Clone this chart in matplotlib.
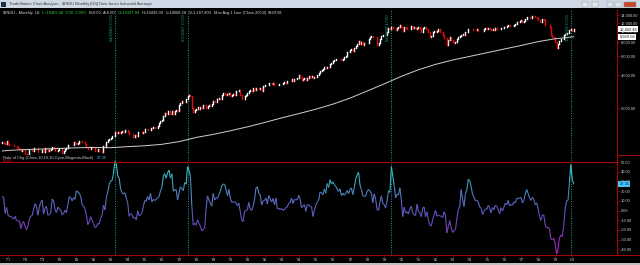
import numpy as np
import matplotlib
matplotlib.use("Agg")
import matplotlib.pyplot as plt
import matplotlib.transforms as mtransforms
from matplotlib.collections import LineCollection
from matplotlib.colors import LinearSegmentedColormap, Normalize
from matplotlib.patches import Rectangle
from matplotlib.lines import Line2D
from matplotlib.ticker import FixedLocator, NullLocator

plt.rcParams['font.family'] = ['Liberation Sans', 'DejaVu Sans']

# monthly closes of the Dow, Jan 1975 .. Feb 2010 (last bar partial)
first_year = 1975
closes = [
    703.69, 739.05, 768.15, 821.34, 832.29, 878.99, 831.51, 835.34, 793.88, 836.04, 860.67, 852.41,
    975.28, 972.61, 999.45, 996.85, 975.23, 1002.78, 984.64, 973.74, 990.19, 964.93, 947.22, 1004.65,
    954.37, 936.42, 919.13, 926.90, 898.66, 916.30, 890.07, 861.49, 847.11, 818.35, 829.70, 831.17,
    769.92, 742.12, 757.36, 837.32, 840.61, 818.95, 862.27, 876.82, 865.82, 792.45, 799.03, 805.01,
    839.22, 808.82, 862.18, 854.90, 822.33, 841.98, 846.42, 887.63, 878.58, 815.70, 822.35, 838.74,
    875.85, 863.14, 785.75, 817.06, 850.85, 867.92, 935.32, 932.59, 932.42, 924.49, 993.34, 963.99,
    947.27, 974.58, 1003.87, 997.75, 991.75, 976.88, 952.34, 881.47, 849.98, 852.55, 888.98, 875.00,
    871.10, 824.39, 822.77, 848.36, 819.54, 811.93, 808.60, 901.31, 896.25, 991.72, 1039.28, 1046.54,
    1075.70, 1112.62, 1130.03, 1226.20, 1199.98, 1221.96, 1199.22, 1216.16, 1233.13, 1225.20, 1276.02, 1258.64,
    1220.58, 1154.63, 1164.89, 1170.75, 1104.85, 1132.40, 1115.28, 1224.38, 1206.71, 1207.38, 1188.94, 1211.57,
    1286.77, 1284.01, 1266.78, 1258.06, 1315.41, 1335.46, 1347.45, 1334.01, 1328.63, 1374.31, 1472.13, 1546.67,
    1570.99, 1709.06, 1818.61, 1783.98, 1876.71, 1892.72, 1775.31, 1898.34, 1767.58, 1877.81, 1914.23, 1895.95,
    2158.04, 2223.99, 2304.69, 2286.36, 2291.57, 2418.53, 2572.07, 2662.95, 2596.28, 1993.53, 1833.55, 1938.83,
    1958.22, 2071.62, 1988.06, 2032.33, 2031.12, 2141.71, 2128.73, 2031.65, 2112.91, 2148.65, 2114.51, 2168.57,
    2342.32, 2258.39, 2293.62, 2418.80, 2480.15, 2440.06, 2660.66, 2737.27, 2692.82, 2645.08, 2706.27, 2753.20,
    2590.54, 2627.25, 2707.21, 2656.76, 2876.66, 2880.69, 2905.20, 2614.36, 2452.48, 2442.33, 2559.65, 2633.66,
    2736.39, 2882.18, 2913.86, 2887.87, 3027.50, 2906.75, 3024.82, 3043.60, 3016.77, 3069.10, 2894.68, 3168.83,
    3223.39, 3267.67, 3235.47, 3359.12, 3396.88, 3318.52, 3393.78, 3257.35, 3271.66, 3226.28, 3305.16, 3301.11,
    3310.03, 3370.81, 3435.11, 3427.55, 3527.43, 3516.08, 3539.47, 3651.25, 3555.12, 3680.59, 3683.95, 3754.09,
    3978.36, 3832.02, 3635.96, 3681.69, 3758.37, 3624.96, 3764.50, 3913.42, 3843.19, 3908.12, 3739.23, 3834.44,
    3843.86, 4011.05, 4157.69, 4321.27, 4465.14, 4556.10, 4708.47, 4610.56, 4789.08, 4755.48, 5074.49, 5117.12,
    5395.30, 5485.62, 5587.14, 5569.08, 5643.18, 5654.63, 5528.91, 5616.21, 5882.17, 6029.38, 6521.70, 6448.27,
    6813.09, 6877.74, 6583.48, 7008.99, 7331.04, 7672.79, 8222.61, 7622.42, 7945.26, 7442.08, 7823.13, 7908.25,
    7906.50, 8545.72, 8799.81, 9063.37, 8899.95, 8952.02, 8883.29, 7539.07, 7842.62, 8592.10, 9116.55, 9181.43,
    9358.83, 9306.58, 9786.16, 10789.04, 10559.74, 10970.80, 10655.15, 10829.28, 10336.95, 10729.94, 10877.81, 11497.12,
    10940.53, 10128.31, 10921.92, 10733.91, 10522.33, 10447.89, 10521.98, 11215.10, 10650.92, 10971.14, 10414.49, 10787.99,
    10887.36, 10495.28, 9878.78, 10734.97, 10911.94, 10502.40, 10522.81, 9949.75, 8847.56, 9075.14, 9851.56, 10021.50,
    9920.00, 10106.13, 10403.94, 9946.22, 9925.25, 9243.26, 8736.59, 8663.50, 7591.93, 8397.03, 8896.09, 8341.63,
    8053.81, 7891.08, 7992.13, 8480.09, 8850.26, 8985.44, 9233.80, 9415.82, 9275.06, 9801.12, 9782.46, 10453.92,
    10488.07, 10583.92, 10357.70, 10225.57, 10188.45, 10435.48, 10139.71, 10173.92, 10080.27, 10027.47, 10428.02, 10783.01,
    10489.94, 10766.23, 10503.76, 10192.51, 10467.48, 10274.97, 10640.91, 10481.60, 10568.70, 10440.07, 10805.87, 10717.50,
    10864.86, 10993.41, 11109.32, 11367.14, 11168.31, 11150.22, 11185.68, 11381.15, 11679.07, 12080.73, 12221.93, 12463.15,
    12621.69, 12268.63, 12354.35, 13062.91, 13627.64, 13408.62, 13211.99, 13357.74, 13895.63, 13930.01, 13371.72, 13264.82,
    12650.36, 12266.39, 12262.89, 12820.13, 12638.32, 11350.01, 11378.02, 11543.55, 10850.66, 9325.01, 8829.04, 8776.39,
    8000.86, 7062.93, 7608.92, 8168.12, 8500.33, 8447.00, 9171.61, 9496.28, 9712.28, 9712.73, 10344.84, 10428.05,
    10067.33, 10402.48,
]
plot_start = 20  # first bar drawn: Sep 1976

# 200 bar moving average
ma_years = [1976.667, 1977, 1978, 1979, 1980, 1981, 1982, 1983, 1984, 1985, 1986, 1987, 1988,
            1989, 1990, 1991, 1992, 1993, 1994, 1995, 1996, 1997, 1998, 1999, 2000, 2001,
            2002, 2003, 2004, 2005, 2006, 2007, 2008, 2009, 2010, 2010.083]
ma_values = [818, 827, 843, 851, 862, 874, 880, 876, 895, 912, 940, 994, 1086,
             1157, 1248, 1355, 1484, 1634, 1787, 1960, 2181, 2473, 2868, 3330, 3900, 4476,
             5010, 5490, 5922, 6390, 6904, 7438, 8067, 8566, 8902, 8929.58]

line_dates = [1983.25, 1987.5, 1999.417, 2009.917]
line_labels = ["04/29/83 17:00", "07/31/87 17:00", "06/30/99 17:00", "12/31/09 17:00"]

price_ticks = [2000, 4000, 6000, 8000, 10000, 12000, 14000]
roc_ticks = [50, 40, 30, 20, 10, 0, -10, -20, -30, -40]
label_years = list(range(1977, 2011))

header_parts = [("$INDU - Monthly", "#d8d8d8"), ("US", "#d8d8d8"),
                ("L=10402.48  9.50  0.09%", "#2ecc40"), ("B=0.00", "#d8d8d8"),
                ("A=0.00", "#d8d8d8"), ("O=10397.88", "#2ecc40"),
                ("H=10436.00", "#d8d8d8"), ("L=10008.28", "#d8d8d8"),
                ("V=1,187,800", "#d8d8d8"), ("Mov Avg 1 Line (Close,200,0)", "#d8d8d8"),
                ("8929.58", "#d8d8d8")]

W, H = 640, 265
RED = '#9a0a0a'
TXT = '#c8c8c8'
TEAL = '#27a08f'
FS = 2.9


def fx(px):
    return px / W


def fy(py):
    return 1 - py / H


closes = np.array(closes)
dates = first_year + np.arange(len(closes)) / 12.0
roc = np.full(len(closes), np.nan)
roc[10:] = (closes[10:] / closes[:-10] - 1) * 100

d = dates[plot_start:]
c = closes[plot_start:]
o = closes[plot_start - 1:-1]
r = roc[plot_start:]

fig = plt.figure(figsize=(6.4, 2.65), dpi=100, facecolor='black')

ax1 = fig.add_axes([0, fy(155), fx(617), 145 / H], facecolor='black')
ax2 = fig.add_axes([0, fy(255), fx(617), 100 / H], facecolor='black')
xlim = (1977 - 8 / 17.1, 1977 + 609 / 17.1)

for ax in (ax1, ax2):
    ax.set_xlim(*xlim)
    for s in ('top', 'left', 'bottom'):
        ax.spines[s].set_visible(False)
    ax.spines['right'].set_color(RED)
    ax.spines['right'].set_linewidth(0.8)
    ax.yaxis.tick_right()
    ax.tick_params(axis='y', which='both', colors=RED, labelcolor=TXT,
                   labelsize=FS, length=1.8, width=0.5, pad=1.0)
    for x in line_dates:
        ax.axvline(x, color=TEAL, lw=0.7, ls=(0, (1, 1.5)))

# price panel
up = c >= o
ax1.vlines(d[up], o[up], c[up], color='#ffffff', lw=1.0, capstyle='projecting')
ax1.vlines(d[~up], c[~up], o[~up], color='#e01010', lw=1.0, capstyle='projecting')
ax1.plot(ma_years, ma_values, color='#d0d0d0', lw=0.7)
ax1.set_yscale('log')
ax1.set_ylim(751.7, 15640)
ax1.yaxis.set_major_locator(FixedLocator(price_ticks))
ax1.yaxis.set_minor_locator(NullLocator())
ax1.set_yticklabels([f"{v:,.2f}" for v in price_ticks])
ax1.tick_params(axis='x', which='both', bottom=False, labelbottom=False)

for x, lab in zip(line_dates, line_labels):
    ax1.text(x - 0.08, 0.97, lab, rotation=90, ha='right', va='top', color=TEAL,
             fontsize=FS, transform=mtransforms.blended_transform_factory(ax1.transData, ax1.transAxes))

# rate of change panel
cmap = LinearSegmentedColormap.from_list(
    'roc', ['#c21cc2', '#8a34b8', '#6450c0', '#5a70c8', '#3aa8b8', '#3ad8cc'])
norm = Normalize(-45, 50)
pts = np.column_stack([d, r])
segs = np.stack([pts[:-1], pts[1:]], axis=1)
lc = LineCollection(segs, colors=cmap(norm((r[:-1] + r[1:]) / 2)), lw=0.8)
ax2.add_collection(lc)
ax2.axhline(50, color=RED, lw=0.9)
ax2.set_ylim(-45.86, 57.55)
ax2.set_yticks(roc_ticks)
ax2.set_yticklabels([f"{v:.2f}" for v in roc_ticks])
ax2.spines['bottom'].set_visible(True)
ax2.spines['bottom'].set_color(RED)
ax2.spines['bottom'].set_linewidth(0.8)
ax2.set_xticks(label_years)
ax2.set_xticklabels([f"'{y % 100:02d}" for y in label_years])
ax2.tick_params(axis='x', colors=RED, labelcolor=TXT, labelsize=FS,
                length=1.5, width=0.5, pad=1)

# current value boxes on the right scale
bt1 = mtransforms.blended_transform_factory(ax1.transAxes, ax1.transData)
bt2 = mtransforms.blended_transform_factory(ax2.transAxes, ax2.transData)
box = dict(boxstyle='square,pad=0.25', ec='none')
ax1.text(1.004, closes[-1], f"{closes[-1]:,.2f}", transform=bt1, fontsize=FS, va='center',
         color='#202020', bbox=dict(box, fc='white'), clip_on=False)
ax1.text(1.004, ma_values[-1], f"{ma_values[-1]:,.2f}", transform=bt1, fontsize=FS, va='center',
         color='#202020', bbox=dict(box, fc='white'), clip_on=False)
ax2.text(1.004, roc[-1], f"{roc[-1]:.2f}", transform=bt2, fontsize=FS, va='center',
         color='#202020', bbox=dict(box, fc='#3fc6f4'), clip_on=False)

# frame lines outside the axes
fig.add_artist(Line2D([fx(617), 1], [fy(155), fy(155)], color=RED, lw=0.8))
fig.add_artist(Line2D([fx(617), 1], [fy(255), fy(255)], color=RED, lw=0.8))

# window title bar and bottom strip
fig.add_artist(Rectangle((0, fy(8)), 1, 8 / H, transform=fig.transFigure, fc='#cfd8e5', ec='none'))
fig.add_artist(Rectangle((fx(1), fy(6.5)), fx(5), 5 / H, transform=fig.transFigure, fc='#203048', ec='none'))
fig.add_artist(Rectangle((0, 0), 1, 2.5 / H, transform=fig.transFigure, fc='#c0c0c0', ec='none'))
for bx, bw, col in [(582, 6, '#e8e8e8'), (592, 6, '#e8e8e8'), (607, 6, '#dde3ec'),
                    (615, 7, '#dde3ec'), (624, 12, '#c8472c')]:
    fig.add_artist(Rectangle((fx(bx), fy(6.5)), fx(bw), 5 / H, transform=fig.transFigure,
                             fc=col, ec='#8090a0', lw=0.3))
fig.text(fx(9), fy(4), "TradeStation Chart Analysis - $INDU Monthly [US] Dow Jones Industrial Average",
         color='#3a3a3a', fontsize=FS, va='center', ha='left')

fig.canvas.draw()
rend = fig.canvas.get_renderer()


def chain(parts, x0, y0, gap):
    x = x0
    for txt, col in parts:
        t = fig.text(fx(x), fy(y0), txt, color=col, fontsize=FS, va='center', ha='left')
        x = t.get_window_extent(renderer=rend).x1 + gap


chain(header_parts, 3, 13, 2)
chain([("Rate of Chg (Close,10,10,10,Cyan,Magenta,Black)", TXT), (f"{roc[-1]:.2f}", '#3fc6f4')], 3, 158, 3)
fig.text(fx(3), fy(161.5), "50.00", color='#d02020', fontsize=2.7, va='center', ha='left')

fig.savefig("out.png", dpi=100, facecolor='black')
